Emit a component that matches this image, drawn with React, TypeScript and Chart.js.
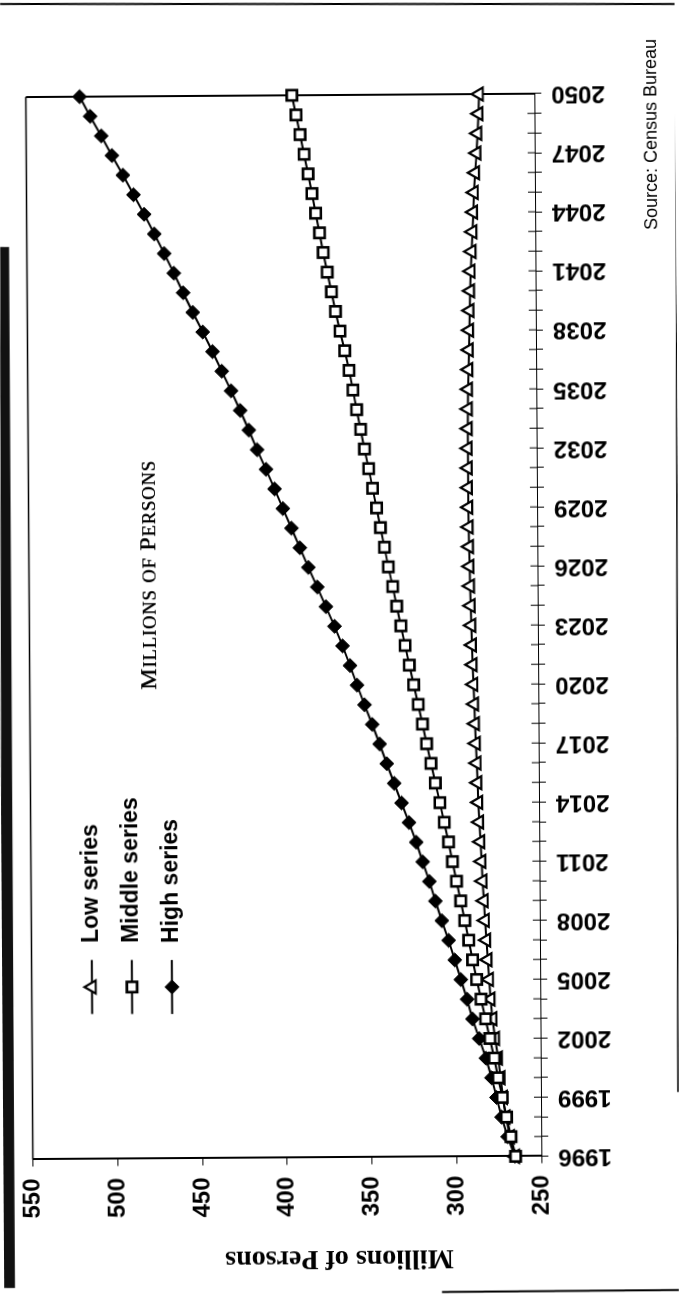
import React, { useEffect, useRef } from 'react';
import { Chart, registerables } from 'chart.js';

Chart.register(...registerables);

// ---------- data ----------
const years = [
  '1996', '1997', '1998', '1999', '2000', '2001', '2002', '2003', '2004', '2005',
  '2006', '2007', '2008', '2009', '2010', '2011', '2012', '2013', '2014', '2015',
  '2016', '2017', '2018', '2019', '2020', '2021', '2022', '2023', '2024', '2025',
  '2026', '2027', '2028', '2029', '2030', '2031', '2032', '2033', '2034', '2035',
  '2036', '2037', '2038', '2039', '2040', '2041', '2042', '2043', '2044', '2045',
  '2046', '2047', '2048', '2049', '2050',
];

const lowSeries = [
  265.4, 268.3, 270.8, 272.4, 273.7, 275.1, 276.8, 278.3, 279.3, 280.1,
  280.9, 281.6, 282.3, 282.9, 283.6, 284.1, 284.7, 285.3, 285.8, 286.2,
  286.6, 287.0, 287.4, 287.8, 288.2, 288.6, 288.9, 289.2, 289.5, 289.8,
  290.0, 290.2, 290.4, 290.5, 290.6, 290.6, 290.6, 290.5, 290.4, 290.2,
  289.9, 289.6, 289.3, 289.0, 288.6, 288.2, 287.6, 287.0, 286.5, 286.0,
  285.2, 284.3, 283.7, 283.0, 282.6,
];

const middleSeries = [
  265.2, 267.9, 270.4, 272.8, 275.2, 277.4, 279.9, 282.4, 285.0, 287.5,
  289.8, 292.0, 294.3, 296.6, 299.0, 301.3, 303.5, 306.0, 308.5, 311.1,
  313.6, 316.1, 318.5, 320.9, 323.5, 326.0, 328.4, 330.8, 333.2, 335.5,
  338.0, 340.2, 342.5, 344.7, 347.0, 349.2, 351.6, 353.8, 356.1, 358.2,
  360.4, 362.9, 365.6, 368.2, 370.5, 372.9, 375.2, 377.3, 379.5, 381.6,
  383.8, 386.1, 388.4, 390.7, 393.1,
];

const highSeries = [
  265.6, 269.8, 273.3, 276.2, 279.1, 282.3, 286.2, 290.1, 293.2, 296.8,
  300.3, 303.9, 307.8, 311.5, 315.0, 318.9, 322.6, 326.8, 331.1, 335.4,
  339.7, 343.8, 348.1, 352.6, 356.9, 361.0, 365.3, 370.0, 375.0, 380.0,
  385.2, 390.1, 395.0, 400.0, 404.8, 409.8, 415.0, 419.8, 424.8, 430.1,
  435.5, 440.9, 446.6, 452.4, 458.0, 463.4, 469.0, 474.8, 480.7, 486.9,
  493.1, 499.5, 505.7, 512.2, 518.3,
];

const seriesLabels = ['Low series', 'Middle series', 'High series'];
const valueMin = 250;
const valueMax = 550;
const valueStep = 50;
const labelEvery = 3;
const axisTitle = 'Millions of Persons';
const innerTitle = 'Millions of Persons';
const sourceText = 'Source: Census Bureau';

// ---------- geometry (canvas drawn unrotated, then turned on the page) ----------
const W = 1297; // canvas width  (page height)
const H = 679; // canvas height (page width)
const TILT = 0.38; // extra scan tilt, degrees

function fromPage(px: number, py: number) {
  const phi = (TILT * Math.PI) / 180;
  const dx = px - H / 2;
  const dy = py - W / 2;
  const dxb = dx * Math.cos(phi) - dy * Math.sin(phi);
  const dyb = dx * Math.sin(phi) + dy * Math.cos(phi);
  return { u: W / 2 - dyb, v: H / 2 + dxb };
}

const SANS = "'Liberation Sans', Arial, sans-serif";
const SERIF = "'Liberation Serif', 'Times New Roman', serif";

function drawMarker(ctx: CanvasRenderingContext2D, style: string, x: number, y: number, r: number, fill: string, lw: number) {
  ctx.save();
  ctx.beginPath();
  if (style === 'triangle') {
    let a = 0;
    ctx.moveTo(x + Math.sin(a) * r, y - Math.cos(a) * r);
    a += (2 * Math.PI) / 3;
    ctx.lineTo(x + Math.sin(a) * r, y - Math.cos(a) * r);
    a += (2 * Math.PI) / 3;
    ctx.lineTo(x + Math.sin(a) * r, y - Math.cos(a) * r);
    ctx.closePath();
  } else if (style === 'rect') {
    const s = Math.SQRT1_2 * r;
    ctx.rect(x - s, y - s, 2 * s, 2 * s);
  } else {
    ctx.moveTo(x - r, y);
    ctx.lineTo(x, y - r);
    ctx.lineTo(x + r, y);
    ctx.lineTo(x, y + r);
    ctx.closePath();
  }
  ctx.fillStyle = fill;
  ctx.fill();
  ctx.lineWidth = lw;
  ctx.strokeStyle = '#000';
  ctx.stroke();
  ctx.restore();
}

function line(ctx: CanvasRenderingContext2D, a: [number, number], b: [number, number], w: number) {
  const p = fromPage(a[0], a[1]);
  const q = fromPage(b[0], b[1]);
  ctx.beginPath();
  ctx.moveTo(p.u, p.v);
  ctx.lineTo(q.u, q.v);
  ctx.lineWidth = w;
  ctx.strokeStyle = '#000';
  ctx.stroke();
}

const decorPlugin = {
  id: 'decor',
  beforeDraw(chart: any) {
    const ctx: CanvasRenderingContext2D = chart.ctx;
    ctx.save();
    ctx.fillStyle = '#fff';
    ctx.fillRect(0, 0, W, H);
    // scanned page edge strip
    const pts: [number, number][] = [[0, 247], [9, 247], [15, 1288], [2, 1288]];
    ctx.beginPath();
    pts.forEach(([x, y], i) => {
      const p = fromPage(x, y);
      if (i === 0) ctx.moveTo(p.u, p.v);
      else ctx.lineTo(p.u, p.v);
    });
    ctx.closePath();
    ctx.fillStyle = '#111';
    ctx.fill();
    // outer frame fragments
    line(ctx, [0, 4], [679, 4], 2);
    line(ctx, [676, 0], [678, 1092], 1.5);
    line(ctx, [442, 1292], [679, 1290], 2);
    ctx.restore();
  },
  beforeDatasetsDraw(chart: any) {
    const ctx: CanvasRenderingContext2D = chart.ctx;
    const { left, right, top, bottom } = chart.chartArea;
    ctx.save();
    ctx.strokeStyle = '#000';
    // plot frame (top & right sides)
    ctx.lineWidth = 1.5;
    ctx.beginPath();
    ctx.moveTo(left, top);
    ctx.lineTo(right, top);
    ctx.stroke();
    ctx.lineWidth = 2;
    ctx.beginPath();
    ctx.moveTo(right, top);
    ctx.lineTo(right, bottom);
    ctx.stroke();
    // inner halves of the year ticks
    const xs = chart.scales.x;
    ctx.lineWidth = 1;
    for (let i = 0; i < years.length; i++) {
      const u = xs.getPixelForValue(i);
      ctx.beginPath();
      ctx.moveTo(u, bottom);
      ctx.lineTo(u, bottom - 7);
      ctx.stroke();
    }
    ctx.restore();
  },
  afterDraw(chart: any) {
    const ctx: CanvasRenderingContext2D = chart.ctx;
    ctx.save();
    ctx.fillStyle = '#000';
    // legend
    const rowPx = [92, 132, 172];
    chart.data.datasets.forEach((ds: any, i: number) => {
      const m = fromPage(rowPx[i], 987);
      ctx.beginPath();
      ctx.moveTo(m.u - 27, m.v);
      ctx.lineTo(m.u + 27, m.v);
      ctx.lineWidth = 2;
      ctx.strokeStyle = '#000';
      ctx.stroke();
      drawMarker(ctx, ds.pointStyle, m.u, m.v, ds.pointRadius, ds.pointBackgroundColor, ds.pointBorderWidth);
      const t = fromPage(rowPx[i], 943);
      ctx.font = `bold 23px ${SANS}`;
      ctx.textAlign = 'left';
      ctx.textBaseline = 'middle';
      ctx.fillStyle = '#000';
      ctx.fillText(ds.label, t.u, m.v);
    });
    // small-caps inner title
    {
      const s = fromPage(156, 690);
      let cx = s.u;
      ctx.textAlign = 'left';
      ctx.textBaseline = 'alphabetic';
      for (const ch of innerTitle) {
        if (ch === ' ') {
          ctx.font = `24px ${SERIF}`;
          cx += ctx.measureText(' ').width + 0.6;
          continue;
        }
        const big = ch === ch.toUpperCase();
        ctx.font = `${big ? 24 : 18.5}px ${SERIF}`;
        const c = ch.toUpperCase();
        ctx.fillText(c, cx, s.v);
        ctx.fillText(c, cx + 0.5, s.v);
        cx += ctx.measureText(c).width + 0.9;
      }
    }
    // source note
    {
      const s = fromPage(657, 230);
      ctx.font = `18px ${SANS}`;
      ctx.textAlign = 'left';
      ctx.textBaseline = 'alphabetic';
      ctx.fillText(sourceText, s.u, s.v);
    }
    // value-axis title
    {
      const c = fromPage(339.5, 1251);
      ctx.translate(c.u, c.v);
      ctx.rotate(-Math.PI / 2);
      ctx.font = `bold 28px ${SERIF}`;
      ctx.textAlign = 'center';
      ctx.textBaseline = 'alphabetic';
      ctx.fillText(axisTitle, 0, 0);
    }
    ctx.restore();
  },
};

export default function App() {
  const canvasRef = useRef<HTMLCanvasElement>(null);

  useEffect(() => {
    const canvas = canvasRef.current;
    if (!canvas) return;
    const common = {
      borderColor: '#000',
      borderWidth: 2,
      tension: 0,
      pointBorderColor: '#000',
      pointHoverRadius: 7,
      clip: false as any,
    };
    const chart = new Chart(canvas, {
      type: 'line',
      data: {
        labels: years,
        datasets: [
          {
            ...common,
            label: seriesLabels[0],
            data: lowSeries,
            pointStyle: 'triangle',
            pointRadius: 7.5,
            pointBackgroundColor: '#fff',
            pointBorderWidth: 2.2,
            order: 1,
          },
          {
            ...common,
            label: seriesLabels[1],
            data: middleSeries,
            pointStyle: 'rect',
            pointRadius: 7.3,
            pointBackgroundColor: '#fff',
            pointBorderWidth: 2.6,
            order: 0,
          },
          {
            ...common,
            label: seriesLabels[2],
            data: highSeries,
            pointStyle: 'rectRot',
            pointRadius: 7,
            pointBackgroundColor: '#000',
            pointBorderWidth: 1,
            order: 2,
          },
        ] as any,
      },
      options: {
        responsive: false,
        animation: false,
        devicePixelRatio: 1,
        layout: { padding: { left: 0, right: 95, top: 29.6, bottom: 0 } },
        plugins: {
          legend: { display: false },
          title: { display: false },
          tooltip: { enabled: false },
        },
        scales: {
          x: {
            type: 'category',
            offset: false,
            grid: { display: true, drawOnChartArea: false, drawTicks: true, tickLength: 7, color: '#000', lineWidth: 1 },
            border: { display: true, color: '#000', width: 1 },
            ticks: {
              autoSkip: false,
              minRotation: 90,
              maxRotation: 90,
              padding: 10,
              color: '#000',
              font: { family: SANS, size: 24, weight: 'bold' },
              callback: (_v: any, index: number) => (index % labelEvery === 0 ? years[index] : ''),
            },
            afterFit: (scale: any) => {
              scale.height = 141;
            },
          },
          y: {
            type: 'linear',
            min: valueMin,
            max: valueMax,
            grid: { display: true, drawOnChartArea: false, drawTicks: true, tickLength: 7, color: '#000', lineWidth: 1 },
            border: { display: true, color: '#000', width: 2 },
            ticks: {
              stepSize: valueStep,
              padding: 12,
              color: '#000',
              font: { family: SANS, size: 24, weight: 'bold' },
            },
            afterFit: (scale: any) => {
              scale.width = 139.5;
            },
          },
        },
      } as any,
      plugins: [decorPlugin],
    });
    return () => chart.destroy();
  }, []);

  return (
    <div
      style={{
        position: 'fixed',
        left: 0,
        top: 0,
        width: H,
        height: W,
        overflow: 'hidden',
        background: '#fff',
      }}
    >
      <div
        style={{
          position: 'absolute',
          left: (H - W) / 2,
          top: (W - H) / 2,
          width: W,
          height: H,
          transform: `rotate(${-90 - TILT}deg)`,
          transformOrigin: '50% 50%',
        }}
      >
        <canvas ref={canvasRef} width={W} height={H} style={{ display: 'block', width: W, height: H }} />
      </div>
    </div>
  );
}
